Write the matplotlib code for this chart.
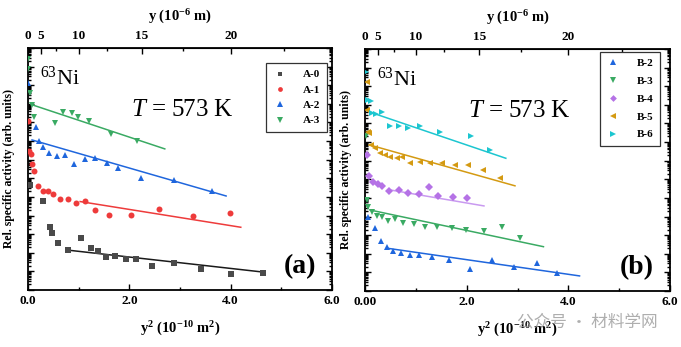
import numpy as np
import matplotlib

matplotlib.use("Agg")
import matplotlib.pyplot as plt
from matplotlib.ticker import FixedLocator, LogLocator, NullFormatter, FixedFormatter

plt.rcParams["font.family"] = ["Liberation Serif", "DejaVu Serif"]
plt.rcParams["mathtext.fontset"] = "custom"
plt.rcParams["mathtext.rm"] = "Liberation Serif"
plt.rcParams["mathtext.it"] = "Liberation Serif:italic"
plt.rcParams["mathtext.bf"] = "Liberation Serif:bold"

# y^2 in 1e-10 m^2, activity as log10 (arb. units)
a0_x = [0.04, 0.29, 0.43, 0.48, 0.59, 0.79, 1.04, 1.24, 1.38, 1.54, 1.72, 1.93, 2.13, 2.44, 2.88, 3.41, 4.00, 4.64]
a0_log = [5.65, 4.78, 3.37, 3.05, 2.51, 2.15, 2.81, 2.24, 2.10, 1.76, 1.84, 1.65, 1.68, 1.29, 1.47, 1.13, 0.86, 0.91]
a1_x = [0.006, 0.026, 0.059, 0.085, 0.124, 0.203, 0.29, 0.388, 0.499, 0.63, 0.78, 0.95, 1.12, 1.32, 1.60, 2.03, 2.59, 3.26, 3.99]
a1_log = [9.10, 7.44, 7.31, 6.77, 6.41, 5.61, 5.32, 5.32, 5.15, 4.88, 4.88, 4.66, 4.80, 4.30, 4.03, 4.03, 4.34, 3.98, 4.12]
a2_x = [0.006, 0.15, 0.22, 0.30, 0.42, 0.57, 0.73, 0.91, 1.12, 1.32, 1.55, 1.78, 2.24, 2.88, 3.63]
a2_log = [11.11, 8.75, 8.03, 7.70, 7.38, 7.20, 7.26, 6.77, 7.03, 7.08, 6.81, 6.54, 6.00, 5.91, 5.32]
a3_x = [0.0, 0.006, 0.04, 0.08, 0.12, 0.53, 0.69, 0.87, 0.99, 1.20, 1.64, 2.15]
a3_log = [12.42, 11.88, 10.59, 9.95, 9.30, 8.98, 9.57, 9.52, 9.30, 9.09, 8.39, 8.01]

b2_x = [0.066, 0.197, 0.31, 0.43, 0.56, 0.71, 0.885, 1.06, 1.31, 1.66, 2.07, 2.50, 2.93, 3.39, 3.77]
b2_log = [3.99, 3.40, 2.70, 2.35, 2.15, 2.06, 1.94, 1.94, 1.81, 1.67, 1.18, 1.67, 1.27, 1.52, 0.95]
b3_x = [0.02, 0.046, 0.066, 0.13, 0.23, 0.33, 0.45, 0.58, 0.75, 0.96, 1.18, 1.42, 1.71, 1.99, 2.34, 2.70, 3.05]
b3_log = [8.30, 4.89, 4.53, 4.26, 4.03, 4.00, 3.78, 3.85, 3.64, 3.60, 3.46, 3.46, 3.40, 3.28, 3.24, 3.42, 2.83]
b4_x = [0.033, 0.085, 0.16, 0.25, 0.34, 0.48, 0.66, 0.85, 1.06, 1.25, 1.44, 1.73, 2.00]
b4_log = [7.31, 6.20, 5.84, 5.74, 5.66, 5.39, 5.43, 5.25, 5.20, 5.61, 5.11, 5.04, 5.02]
b5_x = [0.033, 0.046, 0.066, 0.085, 0.11, 0.197, 0.295, 0.39, 0.49, 0.62, 0.72, 0.885, 1.08, 1.28, 1.51, 1.77, 2.03, 2.33, 2.66]
b5_log = [11.25, 9.73, 8.56, 8.48, 7.85, 7.67, 7.40, 7.31, 7.22, 7.13, 7.22, 6.87, 6.95, 6.87, 6.87, 6.77, 6.77, 6.51, 6.06]
b6_x = [0.02, 0.066, 0.11, 0.14, 0.22, 0.33, 0.49, 0.66, 0.85, 1.08, 1.48, 2.09, 2.46]
b6_log = [11.79, 10.27, 10.23, 9.55, 9.52, 9.61, 8.87, 8.87, 8.75, 8.87, 8.56, 8.30, 7.58]

# Gaussian fits: (x_start, x_end), (log_start, log_end)
a0_fit = ((0.76, 4.68), (2.15, 0.95))
a1_fit = ((1.03, 4.20), (4.75, 3.37))
a2_fit = ((0.08, 3.91), (8.06, 5.05))
a3_fit = ((0.08, 2.70), (9.95, 7.58))
b2_fit = ((0.43, 4.22), (2.30, 0.81))
b3_fit = ((0.10, 3.51), (4.35, 2.38))
b4_fit = ((0.49, 2.34), (5.43, 4.57))
b5_fit = ((0.085, 2.95), (7.85, 5.65))
b6_fit = ((0.16, 2.77), (9.55, 7.13))

GRAY, RED, BLUE, GREEN = "#4a4a4a", "#ee3b3b", "#1f66dd", "#3aaa63"
PURPLE, ORANGE, CYAN = "#b572e6", "#d49a12", "#1cc6d0"

panel_a = [
    ("A-0", a0_x, a0_log, a0_fit, GRAY, "s", "#1a1a1a"),
    ("A-1", a1_x, a1_log, a1_fit, RED, "o", RED),
    ("A-2", a2_x, a2_log, a2_fit, BLUE, "^", BLUE),
    ("A-3", a3_x, a3_log, a3_fit, GREEN, "v", GREEN),
]
panel_b = [
    ("B-2", b2_x, b2_log, b2_fit, BLUE, "^", BLUE),
    ("B-3", b3_x, b3_log, b3_fit, GREEN, "v", GREEN),
    ("B-4", b4_x, b4_log, b4_fit, PURPLE, "D", "#c99af0"),
    ("B-5", b5_x, b5_log, b5_fit, ORANGE, "<", ORANGE),
    ("B-6", b6_x, b6_log, b6_fit, CYAN, ">", CYAN),
]


def y_to_depth(v):
    return np.sqrt(np.clip(v, 0, None)) * 10


def depth_to_y(d):
    return (np.asarray(d) / 10.0) ** 2


def draw_panel(ax, series, tag, first_label, legend_anchor, row_gap):
    for name, xs, logs, fit, color, marker, line_color in series:
        ms = 4.3 if marker in ("D", "s", "o") else 5.0
        ax.plot(xs, 10 ** np.array(logs), ls="none", marker=marker, ms=ms,
                color=color, mew=0, label=name, zorder=3)
        fx, fl = fit
        ax.plot(fx, 10 ** np.array(fl), color=line_color, lw=1.1, zorder=2)

    ax.set_yscale("log")
    ax.set_xlim(0, 6.0)
    ax.set_ylim(1, 1e13)
    ax.yaxis.set_major_locator(LogLocator(base=10, numticks=30))
    ax.yaxis.set_minor_locator(LogLocator(base=10, subs=np.arange(2, 10), numticks=30))
    ax.yaxis.set_major_formatter(NullFormatter())
    ax.yaxis.set_minor_formatter(NullFormatter())
    ax.xaxis.set_major_locator(FixedLocator([0, 2, 4, 6]))
    ax.xaxis.set_major_formatter(FixedFormatter([first_label, "2.0", "4.0", "6.0"]))
    ax.xaxis.set_minor_locator(FixedLocator([1, 3, 5]))
    ax.tick_params(which="both", direction="in", left=True, right=True, top=False,
                   labelsize=9.5, width=1.0)
    ax.tick_params(which="major", length=4.5)
    ax.tick_params(which="minor", length=2.5)
    for lbl in ax.get_xticklabels():
        lbl.set_fontweight("bold")
    for sp in ax.spines.values():
        sp.set_linewidth(1.3)

    top = ax.secondary_xaxis("top", functions=(y_to_depth, depth_to_y))
    top.set_xticks([0, 5, 10, 15, 20])
    top.set_xticks([7.5, 12.5, 17.5, 22.5], minor=True)
    top.tick_params(which="both", direction="in", labelsize=9.5, width=1.0, pad=4)
    top.tick_params(which="major", length=4.5)
    top.tick_params(which="minor", length=2.5)
    for lbl in top.get_xticklabels():
        lbl.set_fontweight("bold")
    top.set_xlabel("y (10$^{\\mathbf{-6}}$ m)", fontsize=10.5, fontweight="bold", labelpad=7)

    ax.set_xlabel("y$^{\\mathbf{2}}$ (10$^{\\mathbf{-10}}$ m$^{\\mathbf{2}}$)",
                  fontsize=10.5, fontweight="bold", labelpad=9)
    ax.set_ylabel("Rel. specific activity (arb. units)", fontsize=8.5,
                  fontweight="bold", labelpad=6)

    ax.text(0.04, 0.875, "$^{63}$Ni", transform=ax.transAxes, fontsize=16,
            ha="left", va="center")
    ax.text(0.507, 0.745, "$T$ = 573 K", transform=ax.transAxes, fontsize=18,
            ha="center", va="center")
    ax.text(0.948, 0.095, tag, transform=ax.transAxes, fontsize=20,
            fontweight="bold", ha="right", va="center")

    leg = ax.legend(loc="upper right", bbox_to_anchor=legend_anchor,
                    prop={"weight": "bold", "size": 8}, handlelength=1.2,
                    handletextpad=1.5, borderpad=0.6, labelspacing=row_gap,
                    markerscale=0.8, fancybox=False, edgecolor="#333333",
                    framealpha=1, borderaxespad=0)
    leg.get_frame().set_linewidth(0.9)


fig = plt.figure(figsize=(6.81, 3.47), dpi=100)
ax_a = fig.add_axes([0.0411, 0.1643, 0.4464, 0.6974])
ax_b = fig.add_axes([0.536, 0.1614, 0.4479, 0.6974])

draw_panel(ax_a, panel_a, "(a)", "0.0", (0.984, 0.938), 0.5)
draw_panel(ax_b, panel_b, "(b)", "0.00", (0.967, 0.988), 0.72)

fig.text(0.965, 0.072, "公众号 · 材料学网", fontsize=12, color="#9a9a9a",
         alpha=0.8, ha="right", va="center", family=["Noto Sans CJK SC", "DejaVu Sans"])

fig.savefig("out.png", dpi=100)
